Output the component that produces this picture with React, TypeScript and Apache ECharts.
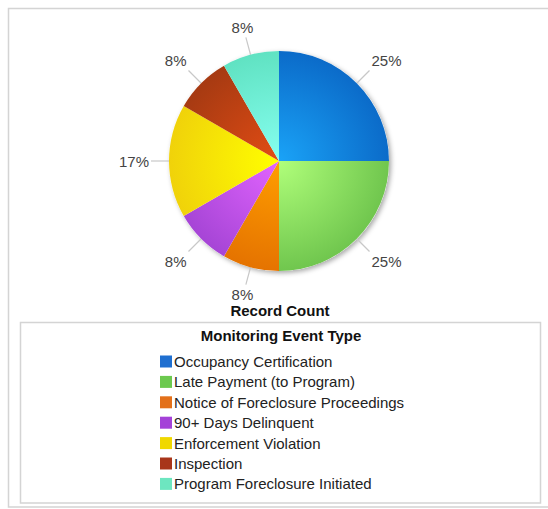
import React, { useEffect, useRef } from "react";
import * as echarts from "echarts";

const categories = [
  "Occupancy Certification",
  "Late Payment (to Program)",
  "Notice of Foreclosure Proceedings",
  "90+ Days Delinquent",
  "Enforcement Violation",
  "Inspection",
  "Program Foreclosure Initiated",
];
const recordCounts = [3, 3, 1, 1, 2, 1, 1];
const innerColors = ["#1aa3f7", "#b0ff7a", "#ff9e00", "#e264ff", "#ffff00", "#e24c14", "#86fff0"];
const outerColors = ["#0b6bc9", "#70c64e", "#e57300", "#a645d6", "#f0d20a", "#a63a12", "#60e2c2"];
const legendColors = ["#1f6fd0", "#6cc94f", "#e3701a", "#a442d8", "#f0d800", "#a8361a", "#6de6c0"];
const chartTitle = "Record Count";
const legendTitle = "Monitoring Event Type";

const FONT = 'Arial, "Liberation Sans", Helvetica, sans-serif';
const CX = 279;
const CY = 161;
const R = 110;

export default function App() {
  const ref = useRef<HTMLDivElement>(null);
  useEffect(() => {
    if (!ref.current) return;
    const chart = echarts.init(ref.current, null, { renderer: "svg" });
    const total = recordCounts.reduce((a, b) => a + b, 0);
    const data = categories.map((name, i) => ({
      name,
      value: recordCounts[i],
      itemStyle: {
        color: new echarts.graphic.RadialGradient(
          CX,
          CY,
          R,
          [
            { offset: 0, color: innerColors[i] },
            { offset: 1, color: outerColors[i] },
          ],
          true
        ),
      },
    }));
    chart.setOption({
      animation: false,
      backgroundColor: "#ffffff",
      graphic: [
        {
          type: "rect",
          z: -10,
          shape: { x: 8.5, y: 8.5, width: 560, height: 498.5 },
          style: { fill: "#fff", stroke: "#d4d4d4", lineWidth: 1.5 },
        },
        {
          type: "rect",
          z: -9,
          shape: { x: 20.5, y: 322.5, width: 520, height: 180.5 },
          style: { fill: "#fff", stroke: "#d4d4d4", lineWidth: 1.5 },
        },
        {
          type: "circle",
          z: -5,
          shape: { cx: CX, cy: CY, r: R },
          style: {
            fill: "#fff",
            shadowBlur: 5,
            shadowOffsetX: 2,
            shadowOffsetY: 2,
            shadowColor: "rgba(0,0,0,0.35)",
          },
        },
        {
          type: "text",
          x: 280,
          y: 310,
          style: {
            text: chartTitle,
            font: `bold 15px ${FONT}`,
            fill: "#111",
            align: "center",
            verticalAlign: "middle",
          },
        },
        {
          type: "text",
          x: 281,
          y: 335,
          style: {
            text: legendTitle,
            font: `bold 15px ${FONT}`,
            fill: "#111",
            align: "center",
            verticalAlign: "middle",
          },
        },
      ],
      legend: {
        orient: "vertical",
        left: 160,
        top: 354,
        padding: 0,
        itemWidth: 12,
        itemHeight: 12,
        itemGap: 5.4,
        icon: "rect",
        selectedMode: false,
        textStyle: {
          fontFamily: FONT,
          fontSize: 15,
          color: "#222",
          padding: [0, 0, 0, -3],
        },
        data: categories.map((name, i) => ({
          name,
          itemStyle: { color: legendColors[i] },
        })),
      },
      series: [
        {
          type: "pie",
          center: [CX, CY],
          radius: R,
          startAngle: 90,
          clockwise: true,
          avoidLabelOverlap: false,
          data,
          itemStyle: { borderWidth: 0 },
          emphasis: { disabled: true },
          label: {
            show: true,
            position: "outside",
            fontFamily: FONT,
            fontSize: 15,
            color: "#444",
            formatter: (p: any) => Math.round((p.value / total) * 100) + "%",
          },
          labelLine: {
            show: true,
            length: 18,
            length2: 0,
            lineStyle: { color: "#c8c8c8", width: 1.2 },
          },
          labelLayout: (p: any) => {
            const pts = p.labelLinePoints;
            if (!pts) return {};
            const a = pts[0];
            const b = pts[1];
            const dx = b[0] - a[0];
            const dy = b[1] - a[1];
            const m = Math.max(Math.abs(dx), Math.abs(dy)) || 1;
            const ux = dx / m;
            const uy = dy / m;
            const w = p.labelRect.width;
            const h = p.labelRect.height;
            const g = 2;
            return {
              x: b[0] + ux * (w / 2 + g),
              y: b[1] + uy * (h / 2 + g),
              align: "center",
              verticalAlign: "middle",
              labelLinePoints: [a, b, b],
            };
          },
        },
      ],
    });
    return () => chart.dispose();
  }, []);
  return (
    <div
      ref={ref}
      style={{ position: "absolute", left: 0, top: 0, width: 548, height: 509 }}
    />
  );
}
